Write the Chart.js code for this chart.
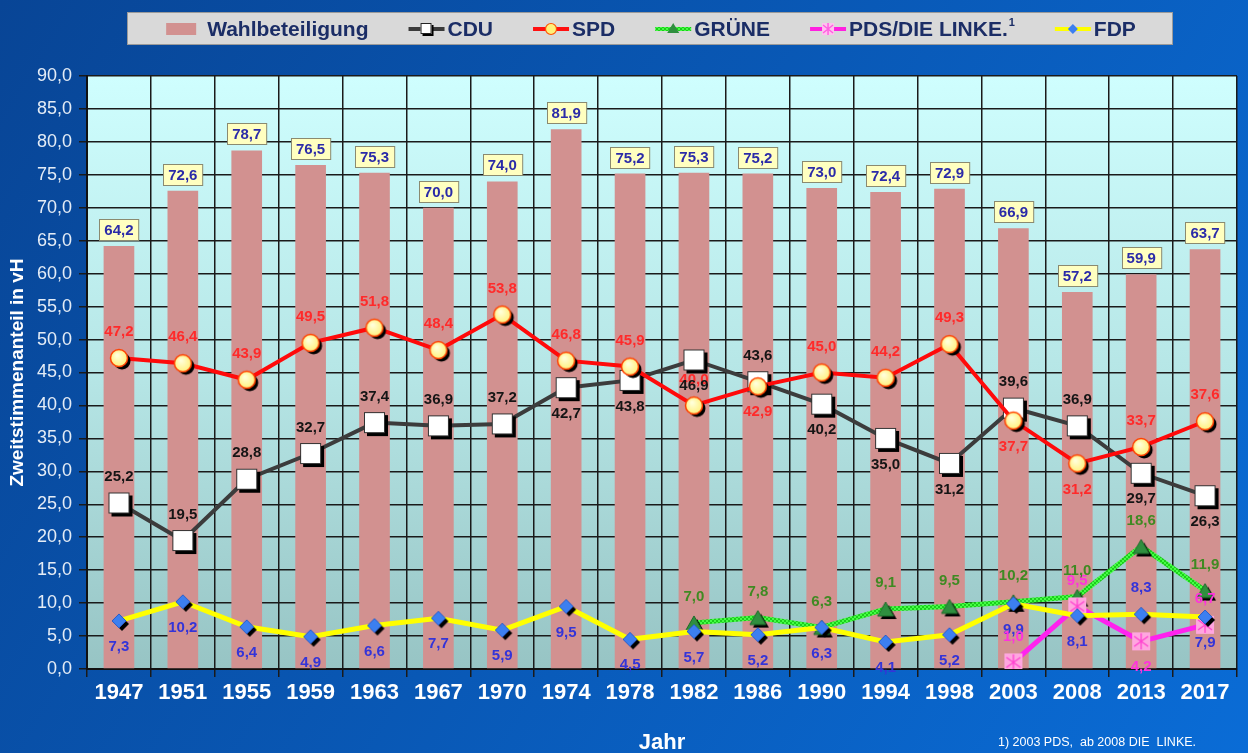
<!DOCTYPE html>
<html><head><meta charset="utf-8">
<script src="https://cdn.jsdelivr.net/npm/chart.js@4.4.1/dist/chart.umd.min.js"></script>
<style>html,body{margin:0;padding:0;background:#0a4c9c;overflow:hidden}</style>
</head><body>
<canvas id="c" width="1248" height="753"></canvas>
<script>
// ---------- DATA ----------
const years = ['1947','1951','1955','1959','1963','1967','1970','1974','1978','1982','1986','1990','1994','1998','2003','2008','2013','2017'];
const turnout = [64.2,72.6,78.7,76.5,75.3,70.0,74.0,81.9,75.2,75.3,75.2,73.0,72.4,72.9,66.9,57.2,59.9,63.7];
const cdu = [25.2,19.5,28.8,32.7,37.4,36.9,37.2,42.7,43.8,46.9,43.6,40.2,35.0,31.2,39.6,36.9,29.7,26.3];
const spd = [47.2,46.4,43.9,49.5,51.8,48.4,53.8,46.8,45.9,40.0,42.9,45.0,44.2,49.3,37.7,31.2,33.7,37.6];
const gruene = [null,null,null,null,null,null,null,null,null,7.0,7.8,6.3,9.1,9.5,10.2,11.0,18.6,11.9];
const linke = [null,null,null,null,null,null,null,null,null,null,null,null,null,null,1.0,9.5,4.2,6.7];
const fdp = [7.3,10.2,6.4,4.9,6.6,7.7,5.9,9.5,4.5,5.7,5.2,6.3,4.1,5.2,9.9,8.1,8.3,7.9];
const seriesNames = ['Wahlbeteiligung','CDU','SPD','GRÜNE','PDS/DIE LINKE.','FDP'];
const footnoteMark = '1';
const footnote = '1) 2003 PDS,  ab 2008 DIE  LINKE.';
const yTitle = 'Zweitstimmenanteil in vH';
const xTitle = 'Jahr';
const yMin = 0, yMax = 90, yStep = 5;

// label placement (a = above, b = below)
const cduPos = ['a','a','a','a','a','a','a','b','b','b','a','b','b','b','a','a','b','b'];
const spdPos = ['a','a','a','a','a','a','a','a','a','a','b','a','a','a','b','b','a','a'];
const gruenePos = years.map(()=> 'a');
const linkePos = ['a','a','a','a','a','a','a','a','a','a','a','a','a','a','a','a','b','a'];
const fdpPos = ['b','b','b','b','b','b','b','b','b','b','b','b','b','b','b','b','a','b'];

// ---------- helpers ----------
const fmt = v => v.toFixed(1).replace('.', ',');
const canvasEl = document.getElementById('c');
const mainCtx = canvasEl.getContext('2d');

function markerCanvas(w, h, draw, shadow) {
  const pad = 5;
  const c = document.createElement('canvas');
  c.width = w + pad * 2; c.height = h + pad * 2;
  const x = c.getContext('2d');
  x.translate(pad, pad);
  if (shadow) { x.save(); x.translate(3, 3); draw(x, true); x.restore(); }
  draw(x, false);
  return c;
}
const cduMarker = markerCanvas(21, 21, (x, s) => {
  x.fillStyle = s ? '#000' : '#ffffff';
  x.fillRect(0, 0, 21, 21);
  if (!s) { x.strokeStyle = '#333'; x.lineWidth = 1; x.strokeRect(0.5, 0.5, 20, 20); }
}, true);
const spdMarker = markerCanvas(18, 18, (x, s) => {
  x.beginPath(); x.arc(9, 9, 8.5, 0, Math.PI * 2);
  if (s) { x.fillStyle = '#000'; x.fill(); return; }
  const g = x.createRadialGradient(7, 6, 1, 9, 9, 9);
  g.addColorStop(0, '#ffffd8'); g.addColorStop(1, '#fff07a');
  x.fillStyle = g; x.fill();
  x.strokeStyle = '#ff4000'; x.lineWidth = 1.5; x.stroke();
}, true);
const grueneMarker = markerCanvas(16, 14, (x, s) => {
  x.beginPath(); x.moveTo(8, 0); x.lineTo(16, 14); x.lineTo(0, 14); x.closePath();
  x.fillStyle = s ? '#000' : '#2f8f3f'; x.fill();
  if (!s) { x.strokeStyle = '#1d6a2a'; x.lineWidth = 1; x.stroke(); }
}, true);
const linkeMarker = markerCanvas(18, 18, (x, s) => {
  if (s) return;
  x.fillStyle = '#ffa6e0'; x.fillRect(0, 0, 18, 18);
  x.strokeStyle = '#ff40d0'; x.lineWidth = 1.3;
  x.beginPath();
  x.moveTo(9, 1); x.lineTo(9, 17);
  x.moveTo(2, 4); x.lineTo(16, 14);
  x.moveTo(16, 4); x.lineTo(2, 14);
  x.stroke();
}, false);
const fdpMarker = markerCanvas(14, 14, (x, s) => {
  x.beginPath(); x.moveTo(7, 0); x.lineTo(14, 7); x.lineTo(7, 14); x.lineTo(0, 7); x.closePath();
  x.fillStyle = s ? '#000' : '#3c7ff0'; x.fill();
  if (!s) { x.strokeStyle = '#2a5cc8'; x.lineWidth = 1; x.stroke(); }
}, true);

function greenPattern() {
  const p = document.createElement('canvas');
  p.width = 4; p.height = 4;
  const g = p.getContext('2d');
  g.fillStyle = '#44ff44'; g.fillRect(0, 0, 4, 4);
  g.fillStyle = '#1ccc1c'; g.fillRect(0, 0, 2, 2); g.fillRect(2, 2, 2, 2);
  return mainCtx.createPattern(p, 'repeat');
}
const greenLine = greenPattern();

// ---------- plugins ----------
const bgPlugin = {
  id: 'bg',
  beforeDraw(chart) {
    const ctx = chart.ctx, a = chart.chartArea;
    ctx.save();
    const g = ctx.createLinearGradient(0, 0, chart.width, chart.height);
    g.addColorStop(0, '#084596'); g.addColorStop(1, '#0a6cd6');
    ctx.fillStyle = g; ctx.fillRect(0, 0, chart.width, chart.height);
    const pg = ctx.createLinearGradient(0, a.top, 0, a.bottom);
    pg.addColorStop(0, '#cffefe'); pg.addColorStop(0.5, '#b6e6e6'); pg.addColorStop(1, '#97c4c4');
    ctx.fillStyle = pg; ctx.fillRect(a.left, a.top, a.right - a.left, a.bottom - a.top);
    ctx.restore();
  }
};

const labelPlugin = {
  id: 'vlabels',
  afterDatasetsDraw(chart) {
    const ctx = chart.ctx;
    ctx.save();
    ctx.font = 'bold 15px Arial, "Liberation Sans", sans-serif';
    ctx.textAlign = 'center'; ctx.textBaseline = 'middle';
    // bar labels first
    chart.data.datasets.forEach((ds, i) => {
      if (ds.type !== 'bar') return;
      const meta = chart.getDatasetMeta(i);
      meta.data.forEach((el, j) => {
        const t = fmt(ds.data[j]);
        const w = ctx.measureText(t).width + 10, h = 21;
        const bx = Math.round(el.x - w / 2) + 0.5, by = Math.round(el.y - 6 - h) + 0.5;
        ctx.fillStyle = '#ffffc0'; ctx.fillRect(bx, by, w, h);
        ctx.strokeStyle = '#8a8a70'; ctx.lineWidth = 1; ctx.strokeRect(bx, by, w, h);
        ctx.fillStyle = '#2b2ba8'; ctx.fillText(t, el.x, by + h / 2 + 1);
      });
    });
    chart.data.datasets.forEach((ds, i) => {
      if (ds.type !== 'line') return;
      const meta = chart.getDatasetMeta(i);
      meta.data.forEach((el, j) => {
        const v = ds.data[j];
        if (v == null) return;
        const dy = ds.labelPos[j] === 'b' ? 26 : -26;
        ctx.fillStyle = ds.labelColor;
        ctx.fillText(fmt(v), el.x, el.y + dy);
      });
    });
    ctx.restore();
  }
};

const legendPlugin = {
  id: 'customLegend',
  afterDraw(chart) {
    const ctx = chart.ctx;
    ctx.save();
    ctx.fillStyle = '#d9d9d9';
    ctx.fillRect(127, 12, 1046, 33);
    ctx.strokeStyle = '#9a9a9a'; ctx.lineWidth = 1;
    ctx.strokeRect(127.5, 12.5, 1045, 32);
    const cy = 29;
    const font = 'bold 21px Arial, "Liberation Sans", sans-serif';
    ctx.font = font;
    const syms = [
      {w: 30, gap: 11, draw: (x) => { ctx.fillStyle = '#d29190'; ctx.fillRect(x, cy - 6, 30, 12); }},
      {w: 36, gap: 3, draw: (x) => { line(x, '#3a3a3a', 4); ctx.fillStyle = '#000'; ctx.fillRect(x + 14, cy - 4, 11, 11); ctx.fillStyle = '#fff'; ctx.fillRect(x + 12, cy - 6, 11, 11); ctx.strokeStyle = '#222'; ctx.lineWidth = 1; ctx.strokeRect(x + 12.5, cy - 5.5, 10, 10); }},
      {w: 36, gap: 3, draw: (x) => { line(x, '#ff1010', 4); ctx.beginPath(); ctx.arc(x + 18, cy, 5.5, 0, Math.PI * 2); ctx.fillStyle = '#fff07a'; ctx.fill(); ctx.strokeStyle = '#ff5000'; ctx.lineWidth = 1.2; ctx.stroke(); }},
      {w: 36, gap: 3, draw: (x) => { line(x, greenLine, 4); ctx.beginPath(); ctx.moveTo(x + 18, cy - 6); ctx.lineTo(x + 24, cy + 4); ctx.lineTo(x + 12, cy + 4); ctx.closePath(); ctx.fillStyle = '#2f8f3f'; ctx.fill(); }},
      {w: 36, gap: 3, draw: (x) => { line(x, '#ff20e0', 4); ctx.strokeStyle = '#ff60e0'; ctx.lineWidth = 1.5; ctx.fillStyle = '#ffc0ef'; ctx.fillRect(x + 12, cy - 6, 12, 12); ctx.beginPath(); ctx.moveTo(x + 18, cy - 6); ctx.lineTo(x + 18, cy + 6); ctx.moveTo(x + 13, cy - 4); ctx.lineTo(x + 23, cy + 4); ctx.moveTo(x + 23, cy - 4); ctx.lineTo(x + 13, cy + 4); ctx.stroke(); }},
      {w: 36, gap: 3, draw: (x) => { line(x, '#ffff00', 4); ctx.beginPath(); ctx.moveTo(x + 18, cy - 5); ctx.lineTo(x + 23, cy); ctx.lineTo(x + 18, cy + 5); ctx.lineTo(x + 13, cy); ctx.closePath(); ctx.fillStyle = '#3c7ff0'; ctx.fill(); }}
    ];
    function line(x, color, w) { ctx.strokeStyle = color; ctx.lineWidth = w; ctx.beginPath(); ctx.moveTo(x, cy); ctx.lineTo(x + 36, cy); ctx.stroke(); }
    const supFont = 'bold 11px Arial, "Liberation Sans", sans-serif';
    const widths = seriesNames.map((n, i) => {
      ctx.font = font;
      let w = ctx.measureText(n).width;
      if (i === 4) { ctx.font = supFont; w += ctx.measureText(footnoteMark).width + 1; }
      return w;
    });
    const spacing = 40;
    let total = 0;
    syms.forEach((s, i) => { total += s.w + s.gap + widths[i]; });
    total += spacing * (syms.length - 1);
    let x = 651 - total / 2;
    syms.forEach((s, i) => {
      s.draw(x);
      x += s.w + s.gap;
      ctx.font = font; ctx.fillStyle = '#1b2d66'; ctx.textAlign = 'left'; ctx.textBaseline = 'middle';
      ctx.fillText(seriesNames[i], x, cy + 1);
      let tw = ctx.measureText(seriesNames[i]).width;
      if (i === 4) { ctx.font = supFont; ctx.fillText(footnoteMark, x + tw + 1, cy - 6); }
      x += widths[i] + spacing;
    });
    // footnote
    ctx.font = '12.5px Arial, "Liberation Sans", sans-serif';
    ctx.fillStyle = '#ffffff'; ctx.textAlign = 'left'; ctx.textBaseline = 'middle';
    ctx.fillText(footnote, 998, 743);
    ctx.restore();
  }
};

// ---------- chart ----------
const lineBase = { type: 'line', tension: 0, spanGaps: false, pointRadius: 6, pointHoverRadius: 6 };
new Chart(canvasEl, {
  data: {
    labels: years,
    datasets: [
      Object.assign({}, lineBase, { label: seriesNames[5], data: fdp, order: 1, borderColor: '#ffff00', borderWidth: 5, pointStyle: fdpMarker, labelColor: '#3434d8', labelPos: fdpPos }),
      Object.assign({}, lineBase, { label: seriesNames[4], data: linke, order: 2, borderColor: '#ff22ee', borderWidth: 5, pointStyle: linkeMarker, labelColor: '#ff33dd', labelPos: linkePos }),
      Object.assign({}, lineBase, { label: seriesNames[3], data: gruene, order: 3, borderColor: greenLine, borderWidth: 5, pointStyle: grueneMarker, labelColor: '#3f8a22', labelPos: gruenePos }),
      Object.assign({}, lineBase, { label: seriesNames[2], data: spd, order: 4, borderColor: '#ff0a0a', borderWidth: 4, pointStyle: spdMarker, labelColor: '#ff2a2a', labelPos: spdPos }),
      Object.assign({}, lineBase, { label: seriesNames[1], data: cdu, order: 5, borderColor: '#3c3c3c', borderWidth: 4, pointStyle: cduMarker, labelColor: '#151515', labelPos: cduPos }),
      { type: 'bar', label: seriesNames[0], data: turnout, order: 6, backgroundColor: '#d29190', barPercentage: 0.48, categoryPercentage: 1 }
    ]
  },
  options: {
    responsive: false,
    animation: false,
    devicePixelRatio: 1,
    layout: { padding: { top: 76, left: 0, right: 5, bottom: 0 } },
    plugins: { legend: { display: false }, tooltip: { enabled: false } },
    scales: {
      x: {
        offset: true,
        grid: { offset: true, color: '#1a1a1a', lineWidth: 1.5, tickLength: 8, tickColor: '#1a1a1a' },
        border: { display: true, color: '#111', width: 2 },
        ticks: { color: '#ffffff', font: { family: 'Arial, "Liberation Sans", sans-serif', size: 22, weight: 'bold' }, padding: 3, maxRotation: 0, autoSkip: false },
        title: { display: true, text: xTitle, color: '#ffffff', font: { family: 'Arial, "Liberation Sans", sans-serif', size: 22, weight: 'bold', lineHeight: 1 }, padding: { top: 0, bottom: -1 } },
        afterFit(s) { s.height = 84; }
      },
      y: {
        min: yMin, max: yMax,
        grid: { color: '#1a1a1a', lineWidth: 1.5, tickLength: 8, tickColor: '#1a1a1a' },
        border: { display: true, color: '#111', width: 2 },
        ticks: { stepSize: yStep, color: '#e4ecf6', font: { family: 'Arial, "Liberation Sans", sans-serif', size: 18 }, padding: 7, callback: v => fmt(v) },
        title: { display: true, text: yTitle, color: '#ffffff', font: { family: 'Arial, "Liberation Sans", sans-serif', size: 19, weight: 'bold', lineHeight: 1 }, padding: { top: 8, bottom: 0 } },
        afterFit(s) { s.width = 87; }
      }
    }
  },
  plugins: [bgPlugin, labelPlugin, legendPlugin]
});
</script>
</body></html>
